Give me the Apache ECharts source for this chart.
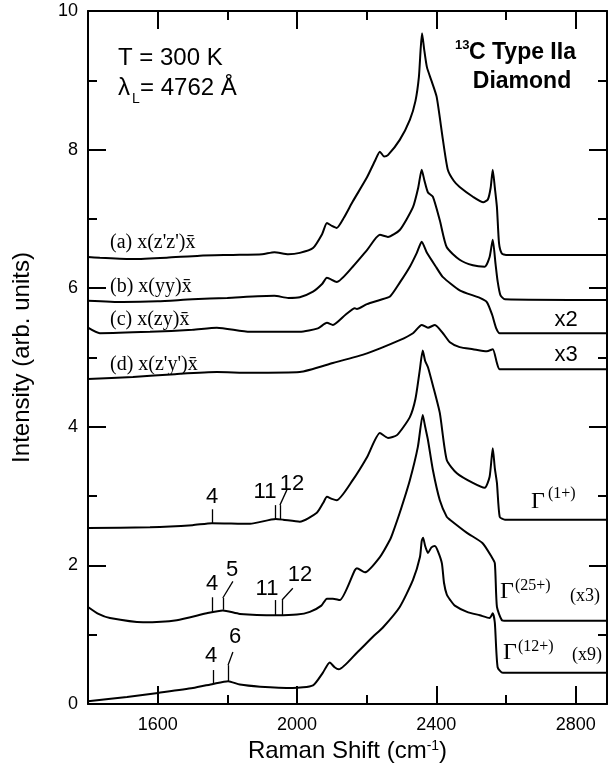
<!DOCTYPE html>
<html>
<head>
<meta charset="utf-8">
<script src="https://cdn.jsdelivr.net/npm/echarts@6.0.0/dist/echarts.min.js"></script>
<style>
  html, body { margin: 0; padding: 0; background: #fff; }
  #chart { width: 608px; height: 768px; }
</style>
</head>
<body>
<div id="chart"></div>
<script>
// Raman spectra of 13C type IIa diamond, offset vertically

// tick values
const xMajor = [1600, 2000, 2400, 2800]
const xMinor = [1800, 2200, 2600]

// spectra: [Raman shift, intensity]
const specA = [[1400,6.45],[1434,6.44],[1529,6.42],[1626,6.44],[1721,6.47],[1816,6.48],[1900,6.49],[1935,6.52],[1975,6.49],[2008,6.51],[2046,6.58],[2072,6.78],[2086,6.94],[2100,6.90],[2114,6.87],[2135,7.02],[2160,7.25],[2201,7.60],[2225,7.85],[2238,7.97],[2250,7.90],[2261,7.92],[2295,8.14],[2324,8.43],[2340,8.70],[2350,9.05],[2355,9.45],[2359,9.68],[2365,9.45],[2373,9.19],[2387,8.98],[2401,8.76],[2419,8.14],[2433,7.71],[2450,7.55],[2467,7.46],[2505,7.32],[2535,7.24],[2548,7.28],[2556,7.45],[2562,7.71],[2568,7.45],[2574,7.17],[2580,6.65],[2588,6.50],[2600,6.48],[2889,6.48]]
const specB = [[1400,5.82],[1500,5.80],[1600,5.81],[1700,5.84],[1800,5.86],[1935,5.89],[1975,5.86],[2008,5.87],[2046,5.95],[2072,6.06],[2086,6.15],[2114,6.09],[2160,6.31],[2201,6.55],[2238,6.77],[2261,6.74],[2295,6.84],[2333,7.17],[2348,7.45],[2358,7.71],[2366,7.55],[2376,7.38],[2390,7.32],[2410,6.98],[2430,6.59],[2467,6.41],[2505,6.33],[2539,6.31],[2553,6.45],[2562,6.70],[2570,6.35],[2576,6.10],[2584,5.90],[2597,5.84],[2889,5.83]]
const specC = [[1400,5.43],[1434,5.35],[1578,5.37],[1700,5.40],[1770,5.43],[1865,5.37],[2008,5.37],[2060,5.42],[2086,5.50],[2103,5.47],[2140,5.62],[2166,5.71],[2172,5.70],[2201,5.77],[2238,5.83],[2267,5.88],[2295,6.08],[2324,6.31],[2344,6.51],[2358,6.67],[2373,6.51],[2400,6.30],[2419,6.16],[2467,5.97],[2525,5.86],[2545,5.80],[2560,5.62],[2572,5.42],[2582,5.35],[2889,5.35]]
const specD = [[1400,4.69],[1529,4.72],[1650,4.76],[1770,4.79],[1865,4.78],[2008,4.79],[2103,4.92],[2201,5.06],[2295,5.25],[2333,5.35],[2358,5.47],[2376,5.43],[2396,5.47],[2419,5.35],[2439,5.22],[2467,5.15],[2505,5.12],[2545,5.09],[2562,5.12],[2574,4.92],[2582,4.83],[2889,4.83]]
const specG1 = [[1400,2.54],[1578,2.55],[1700,2.58],[1756,2.61],[1865,2.60],[1939,2.67],[1960,2.66],[2008,2.63],[2057,2.76],[2075,2.90],[2086,2.99],[2100,2.96],[2114,2.94],[2160,3.23],[2201,3.56],[2238,3.91],[2261,3.84],[2287,3.88],[2324,4.14],[2340,4.40],[2352,4.80],[2361,5.10],[2368,4.95],[2376,4.86],[2390,4.60],[2410,4.20],[2430,3.52],[2459,3.33],[2505,3.19],[2539,3.12],[2553,3.28],[2562,3.69],[2568,3.40],[2574,3.19],[2582,2.70],[2597,2.66],[2889,2.66]]
const specG25 = [[1400,1.40],[1430,1.30],[1463,1.24],[1558,1.18],[1655,1.21],[1741,1.31],[1787,1.35],[1836,1.30],[1942,1.28],[2000,1.29],[2037,1.33],[2070,1.42],[2086,1.52],[2103,1.52],[2123,1.50],[2166,1.93],[2172,1.96],[2195,1.90],[2238,2.12],[2267,2.37],[2275,2.47],[2295,2.76],[2324,3.23],[2347,3.71],[2361,4.17],[2368,4.00],[2376,3.81],[2390,3.38],[2410,2.94],[2430,2.70],[2439,2.66],[2488,2.47],[2533,2.32],[2559,2.12],[2568,2.03],[2574,1.40],[2588,1.21],[2600,1.20],[2889,1.20]]
const specG12 = [[1400,0.04],[1512,0.10],[1601,0.16],[1701,0.23],[1759,0.29],[1802,0.33],[1836,0.28],[1894,0.25],[1988,0.23],[2046,0.27],[2074,0.45],[2094,0.60],[2108,0.53],[2120,0.50],[2172,0.74],[2218,0.97],[2246,1.10],[2295,1.40],[2333,1.79],[2353,2.12],[2358,2.35],[2362,2.40],[2368,2.28],[2376,2.18],[2386,2.26],[2396,2.28],[2405,2.20],[2416,2.03],[2422,1.75],[2430,1.58],[2440,1.50],[2453,1.42],[2488,1.33],[2525,1.28],[2553,1.24],[2562,1.31],[2568,1.17],[2576,0.53],[2591,0.45],[2889,0.45]]

// peak marker segments: [[x1, y1], [x2, y2]]
const marksG1 = [[[1756,2.61],[1756,2.81]],[[1939,2.67],[1939,2.87]],[[1951,2.67],[1951,2.87]],[[1951,2.87],[1971,3.09]]]
const marksG25 = [[[1756,1.33],[1756,1.54]],[[1787,1.36],[1787,1.53]],[[1787,1.53],[1816,1.77]],[[1939,1.28],[1939,1.50]],[[1957,1.28],[1957,1.50]],[[1957,1.50],[1988,1.67]]]
const marksG12 = [[[1759,0.29],[1759,0.49]],[[1802,0.33],[1802,0.56]],[[1802,0.56],[1816,0.75]]]

const sans = "'Liberation Sans', Arial, sans-serif"
const serif = "'Liberation Serif', 'Times New Roman', serif"
const black = '#000'

const chart = echarts.init(document.getElementById('chart'))

const lineStyle = { color: black, width: 2 }

const makeSeries = (name, data, marks) => {
  const s = {
    name: name,
    type: 'line',
    data: data,
    showSymbol: false,
    symbol: 'none',
    smooth: 0.2,
    lineStyle: { color: black, width: 2 },
    silent: true,
  }
  if (marks) {
    s.markLine = {
      silent: true,
      symbol: 'none',
      label: { show: false },
      lineStyle: { color: black, width: 1.3, type: 'solid' },
      data: marks.map(m => [{ coord: m[0] }, { coord: m[1] }]),
    }
  }
  return s
}

const xBase = (pos) => ({
  type: 'value',
  position: pos,
  min: 1400,
  max: 2890,
  splitLine: { show: false },
})

const txt = (x, y, text, size, family, align, weight) => ({
  type: 'text',
  x: x,
  y: y,
  silent: true,
  style: {
    text: text,
    fontSize: size,
    fontFamily: family,
    fontWeight: weight || 'normal',
    fill: black,
    align: align || 'left',
    verticalAlign: 'middle',
  },
})

const option = {
  animation: false,
  backgroundColor: '#fff',
  grid: { left: 88, right: 1, top: 11, bottom: 64 },
  xAxis: [
    Object.assign(xBase('bottom'), {
      axisLine: { onZero: false, lineStyle: lineStyle },
      axisTick: { inside: true, length: 9, customValues: xMinor, lineStyle: lineStyle },
      axisLabel: { show: false },
    }),
    Object.assign(xBase('bottom'), {
      axisLine: { show: false, onZero: false },
      axisTick: { inside: true, length: 18, customValues: xMajor, lineStyle: lineStyle },
      axisLabel: {
        customValues: xMajor, fontSize: 18, fontFamily: sans, color: black, margin: 12,
        formatter: v => String(v),
      },
      name: 'Raman Shift (cm{sup|-1})',
      nameLocation: 'middle',
      nameGap: 34,
      nameTextStyle: {
        fontSize: 24, fontFamily: sans, color: black,
        rich: { sup: { fontSize: 14, fontFamily: sans, color: black, verticalAlign: 'top' } },
      },
    }),
    Object.assign(xBase('top'), {
      axisLine: { onZero: false, lineStyle: lineStyle },
      axisTick: { inside: true, length: 9, customValues: xMinor, lineStyle: lineStyle },
      axisLabel: { show: false },
    }),
    Object.assign(xBase('top'), {
      axisLine: { show: false, onZero: false },
      axisTick: { inside: true, length: 18, customValues: xMajor, lineStyle: lineStyle },
      axisLabel: { show: false },
    }),
  ],
  yAxis: [
    {
      type: 'value',
      position: 'left',
      min: 0,
      max: 10,
      interval: 2,
      axisLine: { show: true, onZero: false, lineStyle: lineStyle },
      axisTick: { show: true, inside: true, length: 18, lineStyle: lineStyle },
      minorTick: { show: true, splitNumber: 2, length: 9, lineStyle: lineStyle },
      axisLabel: { fontSize: 18, fontFamily: sans, color: black, margin: 10 },
      splitLine: { show: false },
      name: 'Intensity (arb. units)',
      nameLocation: 'middle',
      nameRotate: 90,
      nameGap: 54,
      nameTextStyle: { fontSize: 24, fontFamily: sans, color: black },
    },
    {
      type: 'value',
      position: 'right',
      min: 0,
      max: 10,
      interval: 2,
      axisLine: { show: true, onZero: false, lineStyle: lineStyle },
      axisTick: { show: true, inside: true, length: 18, lineStyle: lineStyle },
      minorTick: { show: true, splitNumber: 2, length: 9, lineStyle: lineStyle },
      axisLabel: { show: false },
      splitLine: { show: false },
    },
  ],
  series: [
    makeSeries('a', specA),
    makeSeries('b', specB),
    makeSeries('c', specC),
    makeSeries('d', specD),
    makeSeries('G1', specG1, marksG1),
    makeSeries('G25', specG25, marksG25),
    makeSeries('G12', specG12, marksG12),
  ],
  graphic: [
    txt(118, 58, 'T = 300 K', 24, sans),
    txt(118, 88, 'λ', 24, sans),
    txt(132, 99, 'L', 14, sans),
    txt(140, 88, '= 4762 Å', 24, sans),
    txt(455, 45, '13', 13, sans, 'left', 'bold'),
    txt(469, 53, 'C Type IIa', 23, sans, 'left', 'bold'),
    txt(522, 82, 'Diamond', 23, sans, 'center', 'bold'),
    txt(110, 243, "(a) x(z'z')x\u0304", 20, serif),
    txt(110, 287, '(b) x(yy)x\u0304', 20, serif),
    txt(110, 320, '(c) x(zy)x\u0304', 20, serif),
    txt(110, 365, "(d) x(z'y')x\u0304", 20, serif),
    txt(566, 320, 'x2', 22, sans, 'center'),
    txt(566, 355, 'x3', 22, sans, 'center'),
    txt(531, 502, 'Γ', 24, serif),
    txt(548, 494, '(1+)', 16, serif),
    txt(500, 592, 'Γ', 24, serif),
    txt(515, 586, '(25+)', 16, serif),
    txt(570, 596, '(x3)', 18, serif),
    txt(503, 653, 'Γ', 24, serif),
    txt(518, 647, '(12+)', 16, serif),
    txt(572, 655, '(x9)', 18, serif),
    txt(212, 497, '4', 22, sans, 'center'),
    txt(265, 492, '11', 22, sans, 'center'),
    txt(292, 484, '12', 22, sans, 'center'),
    txt(212, 584, '4', 22, sans, 'center'),
    txt(232, 570, '5', 22, sans, 'center'),
    txt(267, 589, '11', 22, sans, 'center'),
    txt(300, 575, '12', 22, sans, 'center'),
    txt(211, 656, '4', 22, sans, 'center'),
    txt(235, 637, '6', 22, sans, 'center'),
  ],
}

chart.setOption(option)
</script>
</body>
</html>
